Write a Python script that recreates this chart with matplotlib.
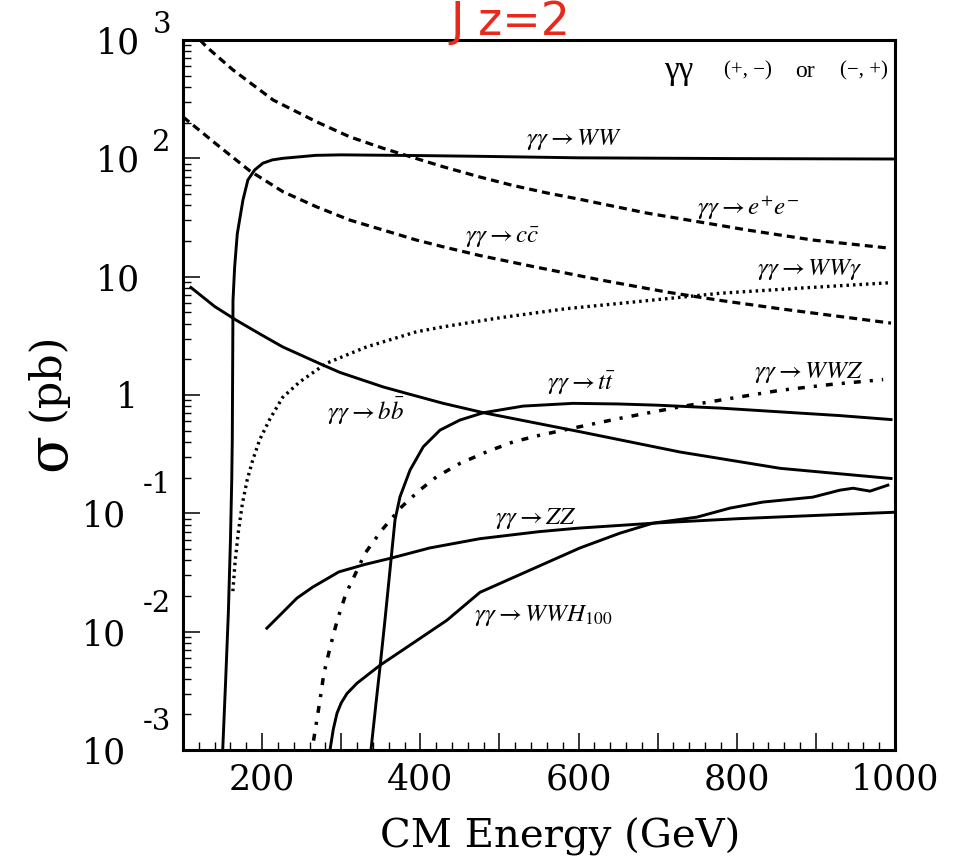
import matplotlib
matplotlib.use("Agg")
import matplotlib.pyplot as plt
from matplotlib import transforms
from matplotlib.ticker import MultipleLocator, LogLocator, NullFormatter

plt.rcParams['mathtext.fontset'] = 'stix'

# ---------------- data ----------------
ww_x = [150.2, 154, 157.3, 160, 161.6, 162.3, 163.2, 165.3, 168.6, 175.8, 182, 190.6, 201, 213, 226,
        268, 300, 400, 475, 600, 800, 1000]
ww_y = [0.001, 0.004, 0.0143, 0.06, 0.19, 0.42, 6.3, 12.1, 23, 44.5, 65.6, 79.8, 91, 97, 100,
        106, 107, 105.5, 104, 101, 99.5, 98.7]

ee_x = [121.5, 130, 163, 214, 268.5, 310.7, 353, 374, 428.6, 475, 517, 560, 602, 686, 813, 896, 990]
ee_y = [1000, 872, 560, 311, 204, 152, 121.6, 110, 85, 69.6, 59, 51, 45, 34.5, 24.8, 20.4, 17.5]

cc_x = [100, 142, 184.3, 226.4, 268.5, 310.7, 352.8, 394.9, 428.6, 475, 542, 627, 712, 779, 855, 995]
cc_y = [224, 132, 78.5, 52.2, 39, 30.1, 24.8, 20.4, 17.9, 15.1, 12.2, 9.4, 7.4, 6.3, 5.35, 4.05]

wwg_x = [163, 166, 170, 175, 181, 188, 197, 210, 226, 247.5, 281, 332, 395, 429, 501, 585, 669, 779, 880, 995]
wwg_y = [0.022, 0.04, 0.07, 0.12, 0.19, 0.28, 0.42, 0.63, 0.955, 1.29, 1.85, 2.55, 3.42, 3.77, 4.5, 5.37,
         6.1, 7.24, 8.0, 8.9]

bb_x = [110, 140, 167, 200, 226, 277, 298.5, 353, 383, 429, 480, 602, 728, 855, 995]
bb_y = [8.1, 5.6, 4.3, 3.2, 2.55, 1.79, 1.55, 1.17, 1.03, 0.85, 0.708, 0.489, 0.33, 0.24, 0.197]

tt_x = [337.6, 344, 349, 355, 361.6, 368, 374.3, 387, 403.7, 424.9, 450, 479.6, 530, 593, 650, 700,
        779, 855, 930, 995]
tt_y = [0.001, 0.0025, 0.005, 0.012, 0.033, 0.088, 0.138, 0.232, 0.365, 0.505, 0.614, 0.708, 0.806,
        0.85, 0.84, 0.82, 0.775, 0.72, 0.67, 0.62]

wwz_x = [265, 273, 278, 286, 295, 306, 315, 330, 340.6, 351.2, 363.8, 376.4, 399.2, 420.7, 450, 483.9,
         517.5, 551, 593, 650, 728, 800, 855, 920, 985]
wwz_y = [0.0012, 0.0026, 0.0044, 0.0074, 0.0125, 0.021, 0.028, 0.0458, 0.0575, 0.072, 0.0905, 0.1136,
         0.157, 0.204, 0.264, 0.331, 0.402, 0.457, 0.525, 0.631, 0.794, 0.955, 1.096, 1.23, 1.35]

zz_x = [206, 222.6, 244, 264, 297, 330, 361.6, 412, 475, 550, 600, 700, 800, 900, 997]
zz_y = [0.0107, 0.0138, 0.0192, 0.0238, 0.032, 0.037, 0.0416, 0.051, 0.061, 0.07, 0.075, 0.083, 0.09,
        0.096, 0.102]

wwh_x = [285.8, 290, 294.7, 300, 307.3, 320, 349, 390.7, 433.7, 475.4, 547.5, 601.8, 652.4, 694, 749.7,
         791.4, 833, 896, 930.5, 947, 968.4, 991]
wwh_y = [0.001, 0.0015, 0.00205, 0.0025, 0.003, 0.00367, 0.0052, 0.008, 0.0125, 0.0215, 0.0352, 0.051,
         0.068, 0.0826, 0.0929, 0.1107, 0.1245, 0.137, 0.157, 0.163, 0.154, 0.173]

# labels on the curves: (text, x, y)
curve_labels = [
    (r"$\gamma\gamma\rightarrow WW$", 595, 143),
    (r"$\gamma\gamma\rightarrow e^{+}e^{-}$", 814, 38),
    (r"$\gamma\gamma\rightarrow c\bar{c}$", 504, 21.2),
    (r"$\gamma\gamma\rightarrow WW\gamma$", 892, 11.6),
    (r"$\gamma\gamma\rightarrow WWZ$", 891, 1.56),
    (r"$\gamma\gamma\rightarrow t\bar{t}$", 603, 1.26),
    (r"$\gamma\gamma\rightarrow b\bar{b}$", 331, 0.731),
    (r"$\gamma\gamma\rightarrow ZZ$", 546, 0.091),
    (r"$\gamma\gamma\rightarrow WWH_{100}$", 555, 0.0138),
]

xtick_vals = [100, 200, 300, 400, 500, 600, 700, 800, 900, 1000]
xtick_labels = ['', '200', '', '400', '', '600', '', '800', '', '1000']
ytick_vals = [1e3, 1e2, 1e1, 1, 1e-1, 1e-2, 1e-3]
ytick_base = ['10', '10', '10', '1', '10', '10', '10']
ytick_exp = ['3', '2', '', '', '-1', '-2', '-3']

# ---------------- figure ----------------
W, H = 956, 861
fig = plt.figure(figsize=(W / 100, H / 100), dpi=100)
ax = fig.add_axes([183 / W, 1 - 750 / H, (895 - 183) / W, (750 - 40) / H])
ax.set_yscale('log')
ax.set_xlim(100, 1000)
ax.set_ylim(1e-3, 1e3)

lw = 2.1
ax.plot(ww_x, ww_y, color='black', lw=lw)
ax.plot(ee_x, ee_y, color='black', lw=2.3, linestyle=(0, (2.5, 1.6)))
ax.plot(cc_x, cc_y, color='black', lw=2.3, linestyle=(0, (2.5, 1.6)))
ax.plot(wwg_x, wwg_y, color='black', lw=2.4, linestyle=(0, (0.75, 1.2)))
ax.plot(bb_x, bb_y, color='black', lw=lw)
ax.plot(tt_x, tt_y, color='black', lw=lw)
ax.plot(wwz_x, wwz_y, color='black', lw=2.5, linestyle=(0, (2.0, 2.6, 0.9, 2.6)))
ax.plot(zz_x, zz_y, color='black', lw=lw)
ax.plot(wwh_x, wwh_y, color='black', lw=lw)

for txt, x, y in curve_labels:
    ax.text(x, y, txt, ha='center', va='center', fontsize=18)

# header text
ax.text(727, 547, 'γγ', ha='center', va='center', fontsize=24, family='Liberation Serif')
ax.text(814, 547, '(+, −)', ha='center', va='center', fontsize=15, family='Liberation Serif')
ax.text(886, 547, 'or', ha='center', va='center', fontsize=17, family='Liberation Serif')
ax.text(961, 547, '(−, +)', ha='center', va='center', fontsize=15, family='Liberation Serif')

# spines and ticks
for s in ['left', 'bottom', 'top', 'right']:
    ax.spines[s].set_linewidth(2.2)

ax.set_xticks(xtick_vals)
ax.set_xticklabels(xtick_labels, fontsize=25, family='DejaVu Serif')
ax.xaxis.set_minor_locator(MultipleLocator(20))
ax.yaxis.set_major_locator(LogLocator(base=10, numticks=20))
ax.yaxis.set_minor_locator(LogLocator(base=10, subs=range(2, 10), numticks=50))
ax.yaxis.set_minor_formatter(NullFormatter())
ax.tick_params(axis='both', which='major', direction='in', length=12, width=1.1,
               top=False, right=False)
ax.tick_params(axis='both', which='minor', direction='in', length=5.5, width=1.0,
               top=False, right=False)
ax.tick_params(axis='x', which='major', pad=9)
ax.tick_params(axis='y', which='both', labelleft=False)

# custom y tick labels (10 with raised exponent, as in the scan)
trans = transforms.blended_transform_factory(fig.transFigure, ax.transData)
for v, b, e in zip(ytick_vals, ytick_base, ytick_exp):
    neg = e.startswith('-')
    bx = 126 if neg else (138 if b == '1' else 140)
    t_base = transforms.offset_copy(trans, fig=fig, y=-13.5, units='dots')
    fig.text(bx / W, v, b, transform=t_base, ha='right', va='baseline',
             fontsize=25, family='DejaVu Serif')
    if e:
        dy = 20 if neg else 7
        t_exp = transforms.offset_copy(trans, fig=fig, y=dy, units='dots')
        fig.text(171 / W, v, e, transform=t_exp, ha='right', va='baseline',
                 fontsize=21, family='DejaVu Serif')

# axis labels
fig.text(560 / W, 1 - 848 / H, 'CM Energy (GeV)', ha='center', va='baseline',
         fontsize=29, family='DejaVu Serif')
fig.text(50 / W, 1 - 452 / H, 'σ', rotation=90, ha='center', va='center',
         fontsize=40, family='DejaVu Serif')
fig.text(47 / W, 1 - 377 / H, '(pb)', rotation=90, ha='center', va='center',
         fontsize=31, family='DejaVu Serif')

# red handwritten note near the top edge
fig.text(450 / W, 1 - 35 / H, 'J z=2', color='#e8291c', ha='left', va='baseline',
         fontsize=33, family='DejaVu Sans')

fig.savefig('out.png', dpi=100)
